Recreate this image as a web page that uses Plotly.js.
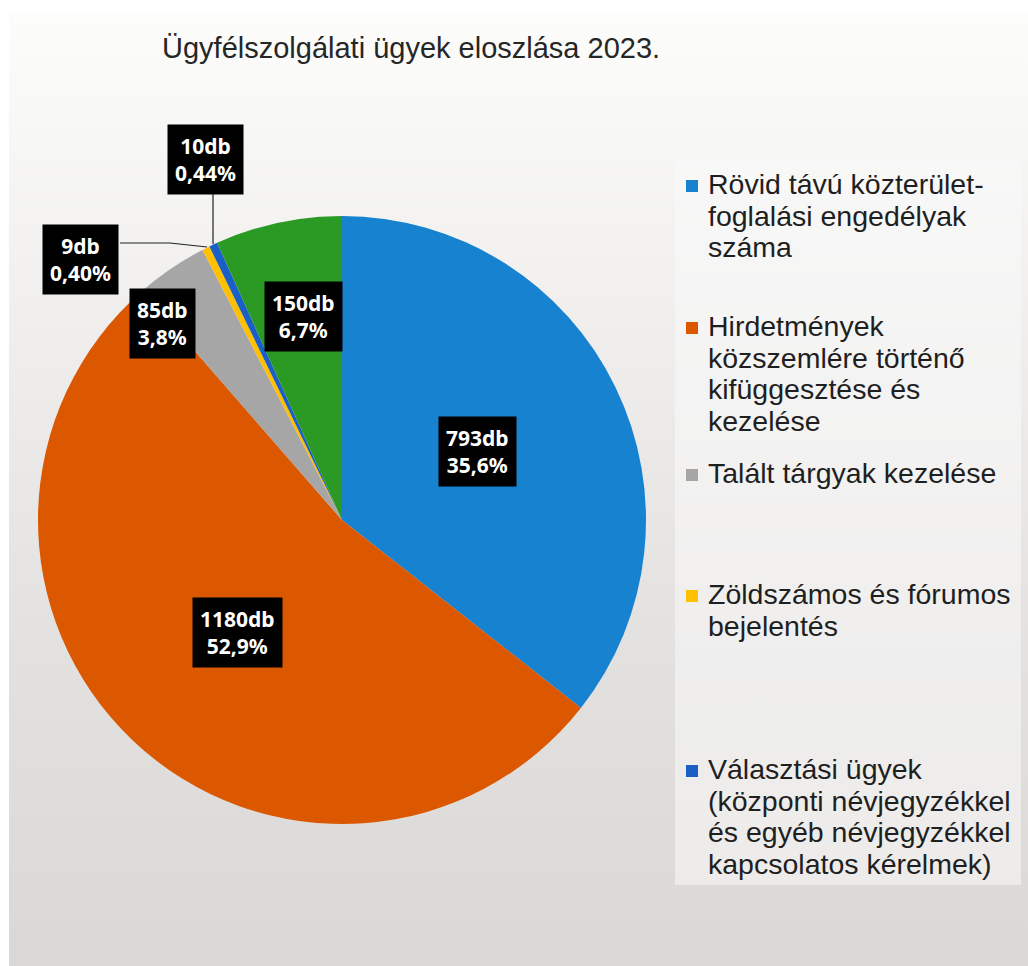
<!DOCTYPE html>
<html>
<head>
<meta charset="utf-8">
<script src="https://cdn.plot.ly/plotly-3.0.1.min.js"></script>
<style>
html,body{margin:0;padding:0;background:#fff;}
#chart{width:1028px;height:966px;background:linear-gradient(to bottom,#fdfdfc 0%,#f1f0ef 30%,#e4e2e0 65%,#dad8d6 100%);}
</style>
</head>
<body>
<div id="chart"></div>
<script>
// ---- data ----
const title = "Ügyfélszolgálati ügyek eloszlása 2023.";
const categories = [
  "Rövid távú közterület-foglalási engedélyak száma",
  "Hirdetmények közszemlére történő kifüggesztése és kezelése",
  "Talált tárgyak kezelése",
  "Zöldszámos és fórumos bejelentés",
  "Választási ügyek (központi névjegyzékkel és egyéb névjegyzékkel kapcsolatos kérelmek)",
  "Egyéb"
];
const counts = [793, 1180, 85, 9, 10, 150];
const percentLabels = ["35,6%", "52,9%", "3,8%", "0,40%", "0,44%", "6,7%"];
const colors = ["#1682d0", "#db5800", "#a6a6a6", "#ffc000", "#1a5fc6", "#2b9a24"];
const legendLines = [
  ["Rövid távú közterület-", "foglalási engedélyak", "száma"],
  ["Hirdetmények", "közszemlére történő", "kifüggesztése és", "kezelése"],
  ["Talált tárgyak kezelése"],
  ["Zöldszámos és fórumos", "bejelentés"],
  ["Választási ügyek", "(központi névjegyzékkel", "és egyéb névjegyzékkel", "kapcsolatos kérelmek)"]
];

// ---- layout helpers (pixel -> paper) ----
const W = 1028, H = 966;
const px = x => x / W;
const py = y => 1 - y / H;

const cx = 342, cy = 520, r = 304;

const trace = {
  type: "pie",
  values: counts,
  labels: categories,
  marker: {colors: colors, line: {width: 0}},
  sort: false,
  direction: "clockwise",
  rotation: 0,
  textinfo: "none",
  hoverinfo: "label+value+percent",
  showlegend: false,
  domain: {x: [px(cx - r), px(cx + r)], y: [py(cy + r), py(cy - r)]}
};

// data label positions (pixels)
const labelPos = [[477, 452], [237, 632], [162, 324], [80, 259], [205, 160], [303, 316]];
const annotations = [];
counts.forEach((c, i) => {
  annotations.push({
    xref: "paper", yref: "paper",
    x: px(labelPos[i][0]), y: py(labelPos[i][1]),
    xanchor: "center", yanchor: "middle",
    text: "<b>" + c + "db</b><br><b>" + percentLabels[i] + "</b>",
    showarrow: false,
    bgcolor: "#000000",
    borderpad: 7,
    font: {family: "Noto Sans, DejaVu Sans, sans-serif", size: 21, color: "#ffffff"},
    align: "center"
  });
});

// title
annotations.push({
  xref: "paper", yref: "paper", x: px(160), y: py(48),
  xanchor: "left", yanchor: "middle", showarrow: false,
  text: title,
  font: {family: "Liberation Sans, Arial, sans-serif", size: 29, color: "#262626"}
});

// custom legend
const legendStartY = [184, 326, 473, 594, 769];
const lineH = 31.7;
const shapes = [];
// white scan margins
shapes.push({type: "rect", xref: "paper", yref: "paper", x0: 0, x1: 1, y0: py(12), y1: 1, fillcolor: "#ffffff", line: {width: 0}, layer: "below"});
shapes.push({type: "rect", xref: "paper", yref: "paper", x0: 0, x1: px(9), y0: 0, y1: 1, fillcolor: "#ffffff", line: {width: 0}, layer: "below"});
// legend background box
shapes.push({type: "rect", xref: "paper", yref: "paper", x0: px(675), x1: px(1021), y0: py(885), y1: py(160),
  fillcolor: "rgba(250,250,249,0.55)", line: {width: 0}, layer: "below"});
legendLines.forEach((lines, i) => {
  lines.forEach((t, j) => {
    annotations.push({
      xref: "paper", yref: "paper", x: px(706), y: py(legendStartY[i] + j * lineH),
      xanchor: "left", yanchor: "middle", showarrow: false, text: t,
      font: {family: "Liberation Sans, Arial, sans-serif", size: 28.5, color: "#1f1f1f"}
    });
  });
  shapes.push({type: "rect", xref: "paper", yref: "paper",
    x0: px(686), x1: px(698), y0: py(legendStartY[i] + 8), y1: py(legendStartY[i] - 4),
    fillcolor: colors[i], line: {width: 0}});
});

// leader lines
shapes.push({type: "line", xref: "paper", yref: "paper", x0: px(213), y0: py(192), x1: px(213), y1: py(244), line: {color: "#222", width: 1.2}});
shapes.push({type: "path", xref: "paper", yref: "paper",
  path: "M " + px(120) + "," + py(243) + " L " + px(170) + "," + py(243) + " L " + px(207) + "," + py(247),
  line: {color: "#222", width: 1.2}});

const layout = {
  width: W, height: H,
  margin: {l: 0, r: 0, t: 0, b: 0},
  paper_bgcolor: "rgba(0,0,0,0)",
  plot_bgcolor: "rgba(0,0,0,0)",
  showlegend: false,
  annotations: annotations,
  shapes: shapes
};

Plotly.newPlot("chart", [trace], layout, {displayModeBar: false, staticPlot: true});
</script>
</body>
</html>
